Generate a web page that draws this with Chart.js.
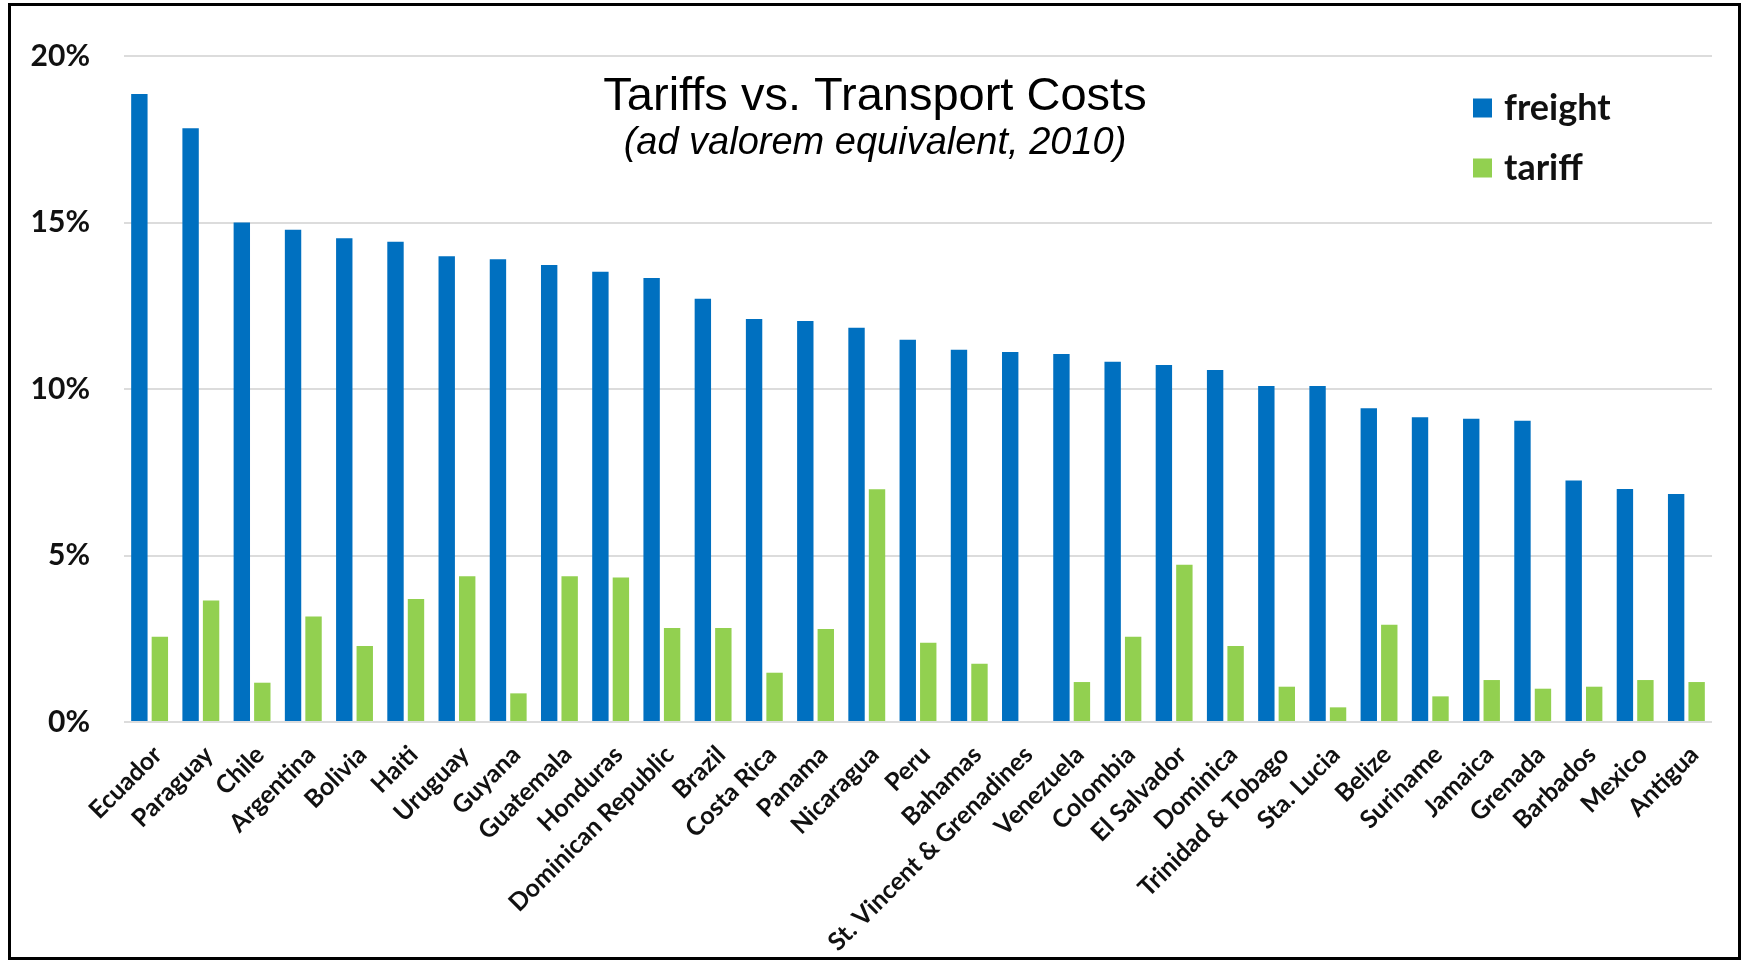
<!DOCTYPE html>
<html>
<head>
<meta charset="utf-8">
<script src="https://cdn.jsdelivr.net/npm/chart.js@4.4.0/dist/chart.umd.min.js"></script>
<style>
  html, body { margin: 0; padding: 0; background: #ffffff; }
  canvas { display: block; }
</style>
</head>
<body>
<canvas id="chart" width="1743" height="962"></canvas>
<script>
// ---- data ----
const categories = ['Ecuador','Paraguay','Chile','Argentina','Bolivia','Haiti','Uruguay','Guyana','Guatemala','Honduras','Dominican Republic','Brazil','Costa Rica','Panama','Nicaragua','Peru','Bahamas','St. Vincent & Grenadines','Venezuela','Colombia','El Salvador','Dominica','Trinidad & Tobago','Sta. Lucia','Belize','Suriname','Jamaica','Grenada','Barbados','Mexico','Antigua'];
const freight = [18.86, 17.83, 15.0, 14.78, 14.53, 14.42, 13.99, 13.9, 13.72, 13.52, 13.33, 12.71, 12.1, 12.04, 11.84, 11.48, 11.18, 11.11, 11.05, 10.82, 10.72, 10.57, 10.09, 10.09, 9.42, 9.15, 9.11, 9.05, 7.25, 7.0, 6.85];
const tariff = [2.56, 3.65, 1.18, 3.17, 2.28, 3.69, 4.38, 0.86, 4.38, 4.34, 2.82, 2.82, 1.48, 2.79, 6.99, 2.38, 1.75, 0.03, 1.2, 2.56, 4.72, 2.28, 1.06, 0.44, 2.92, 0.77, 1.26, 1.0, 1.06, 1.26, 1.2];
const seriesNames = ['freight', 'tariff'];
const yTicks = [0, 5, 10, 15, 20];
const titleText = 'Tariffs vs. Transport Costs';
const subtitleText = '(ad valorem equivalent, 2010)';

// ---- styles ----
const BLUE = '#0070C0';
const GREEN = '#92D050';
const TEXT = '#111111';

const overlay = {
  id: 'overlay',
  beforeDraw(chart) {
    const ctx = chart.ctx;
    ctx.save();
    ctx.fillStyle = '#ffffff';
    ctx.fillRect(0, 0, chart.width, chart.height);
    ctx.restore();
  },
  afterDraw(chart) {
    const ctx = chart.ctx;
    ctx.save();
    // frame
    ctx.strokeStyle = '#000000';
    ctx.lineWidth = 3;
    ctx.strokeRect(9.5, 4.5, 1730, 954);
    // title
    ctx.fillStyle = '#000000';
    ctx.textAlign = 'center';
    ctx.textBaseline = 'alphabetic';
    ctx.font = '47px "Liberation Sans", Arial, sans-serif';
    ctx.fillText(titleText, 875, 110);
    ctx.font = 'italic 38px "Liberation Sans", Arial, sans-serif';
    ctx.fillText(subtitleText, 875, 154);
    // legend
    chart.data.datasets.forEach((ds, i) => {
      const cy = 108 + i * 60;
      ctx.fillStyle = ds.backgroundColor;
      ctx.fillRect(1473, cy - 9.5, 19, 19);
      ctx.fillStyle = TEXT;
      ctx.font = 'bold 36px Lato, sans-serif';
      ctx.textAlign = 'left';
      ctx.textBaseline = 'middle';
      ctx.fillText(ds.label, 1504, cy);
    });
    ctx.restore();
  }
};

new Chart(document.getElementById('chart'), {
  type: 'bar',
  data: {
    labels: categories,
    datasets: [
      { label: seriesNames[0], data: freight, backgroundColor: BLUE, categoryPercentage: 0.8, barPercentage: 0.8 },
      { label: seriesNames[1], data: tariff, backgroundColor: GREEN, categoryPercentage: 0.8, barPercentage: 0.8 }
    ]
  },
  options: {
    responsive: false,
    animation: false,
    devicePixelRatio: 1,
    layout: { padding: { left: 0, right: 31, top: 56, bottom: 0 } },
    plugins: {
      legend: { display: false },
      title: { display: false },
      tooltip: { enabled: false }
    },
    scales: {
      x: {
        grid: { display: false, drawTicks: false },
        border: { display: false },
        ticks: {
          autoSkip: false,
          minRotation: 45,
          maxRotation: 45,
          padding: 18,
          labelOffset: 8,
          color: TEXT,
          font: { family: 'Lato', weight: 'bold', size: 25 }
        },
        afterFit(scale) { scale.height = 962 - 722; }
      },
      y: {
        min: 0,
        max: 20,
        afterBuildTicks(scale) { scale.ticks = yTicks.map(v => ({ value: v })); },
        ticks: {
          padding: 34,
          color: TEXT,
          font: { family: 'Lato', weight: 'bold', size: 30 },
          callback: v => v + '%'
        },
        grid: { color: '#dcdcdc', lineWidth: 2, drawTicks: false },
        border: { display: false },
        afterFit(scale) { scale.width = 124; }
      }
    }
  },
  plugins: [overlay]
});
</script>
</body>
</html>
